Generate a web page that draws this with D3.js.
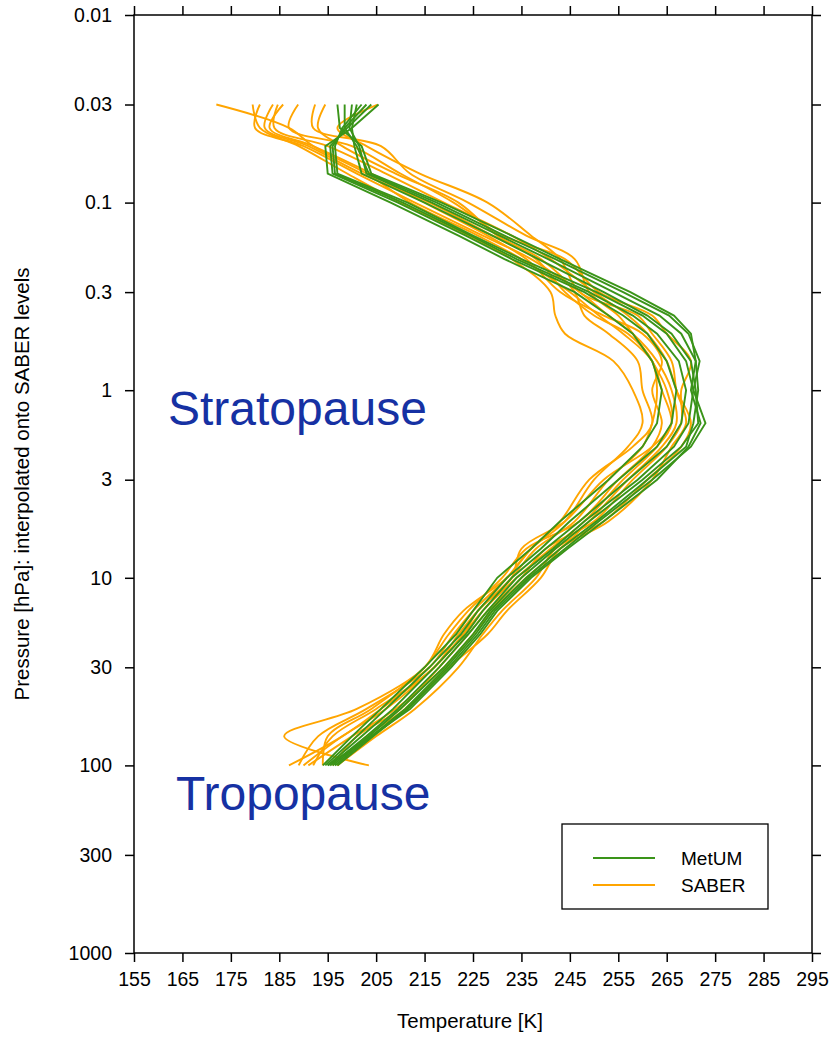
<!DOCTYPE html>
<html>
<head>
<meta charset="utf-8">
<script src="https://cdn.jsdelivr.net/npm/d3@7"></script>
<style>
  html, body { margin: 0; padding: 0; background: #fff; }
  svg { display: block; font-family: "Liberation Sans", Arial, Helvetica, sans-serif; }
</style>
</head>
<body>
<svg id="chart" width="831" height="1037"></svg>
<script>
// ---- data ----
const pressureLevels = [0.03, 0.04, 0.05, 0.07, 0.1, 0.15, 0.2, 0.3, 0.4, 0.5, 0.7, 1, 1.5, 2, 3, 5, 7, 10, 15, 20, 30, 50, 70, 100];

const xTicks = [155, 165, 175, 185, 195, 205, 215, 225, 235, 245, 255, 265, 275, 285, 295];
const yTicks = [0.01, 0.03, 0.1, 0.3, 1, 3, 10, 30, 100, 300, 1000];
const yTickLabels = ["0.01", "0.03", "0.1", "0.3", "1", "3", "10", "30", "100", "300", "1000"];

// MetUM profiles (K), one value per pressure level
const metum1 = [205.5, 200, 194.5, 195, 208, 222, 231.5, 246, 253, 258, 262, 264, 263, 260, 253, 243, 237, 230, 225, 221.5, 215, 206, 200, 194];
const metum2 = [204, 199, 195.5, 196, 209.5, 223.5, 233, 248, 256, 261, 265, 267, 266, 263, 255, 245, 239, 232, 226, 222.5, 216, 207, 201, 194.5];
const metum3 = [203, 198.5, 196, 196.5, 210.5, 224.5, 234, 249, 258, 263, 267.5, 269, 268, 265, 257, 247, 240, 233, 227, 223.5, 217, 208.5, 202, 195];
const metum4 = [202, 198, 196.5, 197, 211.5, 225, 235, 250.5, 260, 265, 269, 270.5, 269.5, 266.5, 259, 248, 241.5, 234, 228, 224, 218, 209.5, 203, 195.5];
const metum5 = [201, 200, 200.5, 202, 215, 229, 238.5, 252, 261, 266, 270, 271, 271.5, 268, 260, 249, 242, 235, 228.5, 225, 219, 210, 203.5, 196];
const metum6 = [200, 199.5, 201.5, 203, 216.5, 230.5, 240.5, 254, 263.5, 268, 271, 271.5, 270.5, 269, 261, 250.5, 243, 236, 229, 225.5, 219.5, 211, 204, 196.5];
const metum7 = [198.5, 198.5, 201, 203.5, 217.5, 231.5, 242, 256, 265.5, 269.5, 271.8, 270.5, 273, 270, 262, 251, 244, 236.5, 229.5, 226, 220, 211.5, 204.4, 197];
const metum8 = [197, 197.5, 202, 204, 218.5, 233, 243, 257.5, 266.5, 270, 271, 270, 272, 269.5, 263, 252, 244.5, 237, 230, 226.5, 220.5, 212, 204, 195];

// SABER profiles (K), one value per pressure level
const saber1 = [172, 187, 192, 203, 212, 226, 235, 245, 251, 256, 262, 264, 266, 263, 256, 248, 241, 234, 227, 223, 217, 207, 198, 190];
const saber2 = [179.5, 181, 189, 199, 210, 224, 233, 241, 242, 244, 254, 258, 260, 257, 250, 244, 237, 232, 225, 221, 216, 203, 193, 189];
const saber3 = [181, 180, 190, 201, 213, 227, 237, 247, 253, 258, 263, 266, 267, 264, 257, 249, 243, 236, 229, 225, 219, 209, 200, 191];
const saber4 = [183.7, 182, 191, 202, 216, 229, 238, 244, 250, 257, 262, 263, 262, 260, 253, 246, 238, 233, 226, 222, 217, 205, 196, 192];
const saber5 = [184.7, 184, 195, 207, 219, 233, 241, 250, 257, 261, 265, 267, 270, 268, 261, 252, 242, 238, 231, 227, 222, 213, 205, 197];
const saber6 = [185.8, 183, 192, 204, 215, 228, 236, 243, 252, 260, 264, 262, 264, 262, 255, 247, 236, 231, 224, 220, 215, 204, 195, 194];
const saber7 = [188.9, 187, 200, 210, 221, 231, 244, 251, 262, 265, 270, 268, 268, 265, 258, 250, 240, 235, 228, 224, 218, 210, 201, 196];
const saber8 = [192.4, 192, 206, 212, 224, 236, 246, 249, 255, 258, 262, 265, 266, 262, 252, 244, 235, 233, 226, 223, 217, 206, 198, 187];
const saber9 = [194.5, 193, 198, 209, 222, 230, 239, 246, 248, 253, 259, 260, 262, 258, 249, 243, 237, 232, 223, 219, 215, 201, 186, 203.5];
const saber10 = [205.3, 197, 203, 214, 228, 237, 243, 247, 259, 262, 266, 267, 269, 266, 262, 253, 243, 239, 232, 228, 220, 211, 203, 197];

const metumProfiles = [metum1, metum2, metum3, metum4, metum5, metum6, metum7, metum8];
const saberProfiles = [saber1, saber2, saber3, saber4, saber5, saber6, saber7, saber8, saber9, saber10];

const seriesNames = ["MetUM", "SABER"];
const annotations = ["Stratopause", "Tropopause"];

// ---- drawing ----
const svg = d3.select("#chart");
const L = 134, R = 812, T = 15, B = 953;
const x = d3.scaleLinear().domain([155, 295]).range([L, R]);
const y = d3.scaleLog().domain([0.01, 1000]).range([T, B]);

const green = "#3a9419";
const orange = "#ffa500";
const tickFont = "19.5px";

const line = (curve) => d3.line()
  .x(d => x(d[0]))
  .y(d => y(d[1]))
  .curve(curve);

const toPts = prof => prof.map((t, i) => [t, pressureLevels[i]]);

const plot = svg.append("g");
plot.selectAll("path.saber")
  .data(saberProfiles)
  .join("path")
  .attr("class", "saber")
  .attr("d", p => line(d3.curveCatmullRom.alpha(0.5))(toPts(p)))
  .attr("fill", "none")
  .attr("stroke", orange)
  .attr("stroke-width", 1.9);

plot.selectAll("path.metum")
  .data(metumProfiles)
  .join("path")
  .attr("class", "metum")
  .attr("d", p => line(d3.curveLinear)(toPts(p)))
  .attr("fill", "none")
  .attr("stroke", green)
  .attr("stroke-width", 1.9);

// axes
function styleAxis(g) {
  g.selectAll(".domain").remove();
  g.selectAll(".tick line").attr("stroke", "#000").attr("stroke-width", 1.5);
  g.selectAll("text").attr("fill", "#000").style("font-size", tickFont)
    .style("font-family", '"Liberation Sans", Arial, sans-serif');
}

svg.append("g").attr("transform", `translate(0,${B})`)
  .call(d3.axisBottom(x).tickValues(xTicks).tickSize(9).tickSizeOuter(0).tickPadding(10).tickFormat(d3.format("d")))
  .call(styleAxis);

svg.append("g").attr("transform", `translate(0,${T})`)
  .call(d3.axisTop(x).tickValues(xTicks).tickSize(9).tickSizeOuter(0).tickFormat(""))
  .call(styleAxis);

svg.append("g").attr("transform", `translate(${L},0)`)
  .call(d3.axisLeft(y).tickValues(yTicks).tickSize(9).tickSizeOuter(0).tickPadding(13)
    .tickFormat((d, i) => yTickLabels[i]))
  .call(styleAxis);

svg.append("g").attr("transform", `translate(${R},0)`)
  .call(d3.axisRight(y).tickValues(yTicks).tickSize(9).tickSizeOuter(0).tickFormat(""))
  .call(styleAxis);

// frame
svg.append("rect")
  .attr("x", L).attr("y", T).attr("width", R - L).attr("height", B - T)
  .attr("fill", "none").attr("stroke", "#000").attr("stroke-width", 1.5);

// axis titles
svg.append("text")
  .attr("x", 470).attr("y", 1028)
  .attr("text-anchor", "middle")
  .style("font-size", "20.5px")
  .text("Temperature [K]");

svg.append("text")
  .attr("transform", `translate(29,${(T + B) / 2}) rotate(-90)`)
  .attr("text-anchor", "middle")
  .style("font-size", "20.5px")
  .text("Pressure [hPa]: interpolated onto SABER levels");

// annotations
svg.append("text").attr("x", 168).attr("y", 425)
  .style("font-size", "48px").attr("fill", "#1631a3").text(annotations[0]);
svg.append("text").attr("x", 176).attr("y", 810)
  .style("font-size", "48px").attr("fill", "#1631a3").text(annotations[1]);

// legend
const lg = svg.append("g");
lg.append("rect").attr("x", 562).attr("y", 824).attr("width", 206).attr("height", 85)
  .attr("fill", "#fff").attr("stroke", "#000").attr("stroke-width", 1.3);
const legColors = [green, orange];
seriesNames.forEach((name, i) => {
  const yy = 858 + i * 27;
  lg.append("line").attr("x1", 593).attr("x2", 655).attr("y1", yy).attr("y2", yy)
    .attr("stroke", legColors[i]).attr("stroke-width", 2);
  lg.append("text").attr("x", 681).attr("y", yy + 7)
    .style("font-size", "19px").text(name);
});
</script>
</body>
</html>
